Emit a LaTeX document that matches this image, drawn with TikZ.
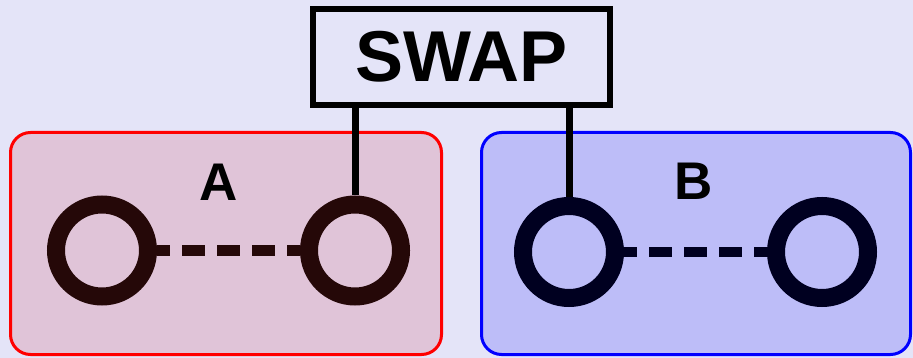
\documentclass[tikz,border=0pt]{standalone}
\usepackage{fontspec}
\setmainfont{Liberation Sans}
\definecolor{bgc}{HTML}{E4E4F8}
\definecolor{afill}{HTML}{E0C4D8}
\definecolor{bfill}{HTML}{BDBDF8}
\definecolor{aring}{HTML}{250808}
\definecolor{bring}{HTML}{000020}
\begin{document}
\begin{tikzpicture}[x=1pt,y=-1pt,
  group/.style={rounded corners=20pt,line width=3pt},
  ring/.style={circle,draw=#1,line width=18pt,minimum size=92pt,inner sep=0pt},
  bond/.style={draw=#1,line width=10pt,dash pattern=on 23pt off 12pt,dash phase=10pt},
  lbl/.style={font=\bfseries\fontsize{53}{60}\selectfont,inner sep=0pt},
  gate/.style={draw=black,line width=6pt,minimum width=297pt,minimum height=96pt,inner sep=0pt,font=\bfseries\fontsize{72}{80}\selectfont}]
\fill[bgc] (0,0) rectangle (913,358);
\useasboundingbox (0,0) rectangle (913,358);
\draw[group,draw=red,fill=afill] (10.5,132.5) rectangle (441.5,354.5);
\draw[group,draw=blue,fill=bfill] (481.5,132.5) rectangle (910.5,354.5);
\node[gate] (swap) at (461.5,57) {SWAP};
\node[lbl] (la) at (219,182) {A};
\node[lbl] (lb) at (694,181) {B};
\node[ring=aring] (a1) at (102,250.5) {};
\node[ring=aring] (a2) at (355,250.5) {};
\node[ring=bring] (b1) at (569,252) {};
\node[ring=bring] (b2) at (822,252) {};
\draw[bond=aring] (a1.east) -- (a2.west);
\draw[bond=bring] (b1.east) -- (b2.west);
\draw[line width=7pt] (a2.north |- swap.south) -- (a2.north);
\draw[line width=7pt] (b1.north |- swap.south) -- (b1.north);
\end{tikzpicture}
\end{document}
